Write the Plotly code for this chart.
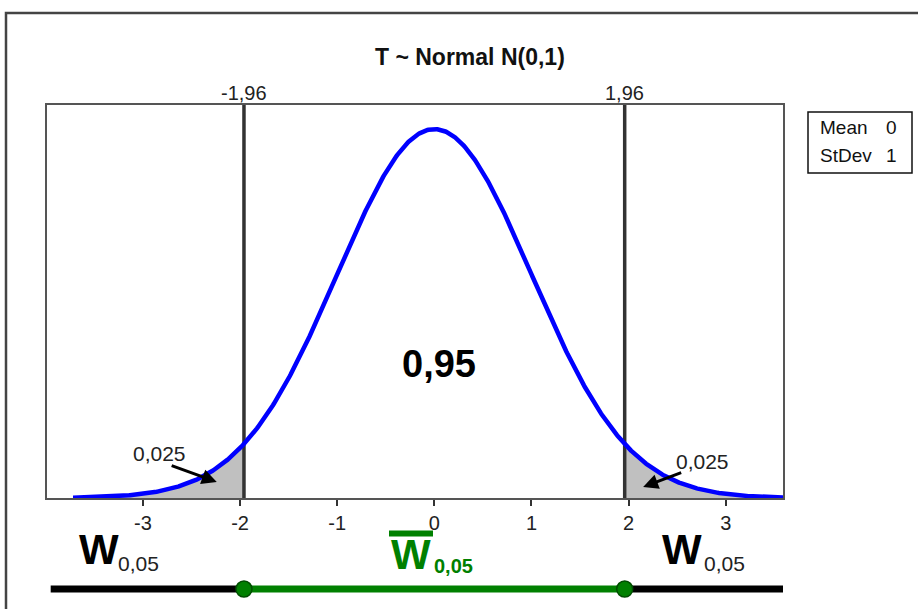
import numpy as np
import plotly.graph_objects as go

# Distribution parameters and critical values
MEAN = 0.0
STDEV = 1.0
CRIT = 1.96
TAIL_LABEL = "0,025"
CENTER_LABEL = "0,95"
CRIT_LABELS = ["-1,96", "1,96"]
TICK_VALUES = [-3, -2, -1, 0, 1, 2, 3]
TICK_LABELS = ["-3", "-2", "-1", "0", "1", "2", "3"]
CURVE_START, CURVE_END = -3.72, 3.59
BAR_START, BAR_END = -3.95, 3.61

W, H = 918, 609
FONT = "Liberation Sans, Arial, sans-serif"


def px(xp):
    return xp / W


def py(yp):
    return (H - yp) / H


def density(v):
    return np.exp(-0.5 * ((v - MEAN) / STDEV) ** 2) / (STDEV * np.sqrt(2 * np.pi))


x = np.linspace(CURVE_START, CURVE_END, 800)
pdf = density(x)

left_x = np.append(x[x < -CRIT], -CRIT)
right_x = np.insert(x[x > CRIT], 0, CRIT)

YMAX = 0.425

fig = go.Figure()

# shaded rejection tails
for tx in (left_x, right_x):
    fig.add_trace(go.Scatter(x=tx, y=density(tx), mode="lines", line=dict(width=0, color="#c0c0c0"),
                             fill="tozeroy", fillcolor="#c0c0c0", hoverinfo="skip", showlegend=False))

# critical value lines
for c in (-CRIT, CRIT):
    fig.add_trace(go.Scatter(x=[c, c], y=[0, YMAX], mode="lines",
                             line=dict(color="#333333", width=3.5), hoverinfo="skip", showlegend=False))

# density curve
fig.add_trace(go.Scatter(x=x, y=pdf, mode="lines", line=dict(color="#0000ff", width=4.5),
                         showlegend=False))

# acceptance / rejection bar below the axis
fig.add_trace(go.Scatter(x=[BAR_START, -CRIT], y=[0, 0], mode="lines", yaxis="y2",
                         line=dict(color="#000000", width=7), showlegend=False, cliponaxis=False))
fig.add_trace(go.Scatter(x=[CRIT, BAR_END], y=[0, 0], mode="lines", yaxis="y2",
                         line=dict(color="#000000", width=7), showlegend=False, cliponaxis=False))
fig.add_trace(go.Scatter(x=[-CRIT, CRIT], y=[0, 0], mode="lines+markers", yaxis="y2",
                         line=dict(color="#008000", width=7),
                         marker=dict(size=16, color="#008000", line=dict(color="#004d00", width=1.5)),
                         showlegend=False, cliponaxis=False))

annotations = []

# title
annotations.append(dict(x=px(470), y=py(57), xref="paper", yref="paper", text="<b>T ~ Normal N(0,1)</b>",
                        showarrow=False, font=dict(family=FONT, size=23, color="#111111"),
                        xanchor="center", yanchor="middle"))

# critical value labels above the plot
for c, lab in zip((-CRIT, CRIT), CRIT_LABELS):
    annotations.append(dict(x=c, y=py(93), xref="x", yref="paper", text=lab, showarrow=False,
                            font=dict(family=FONT, size=20, color="#222222"),
                            xanchor="center", yanchor="middle"))

# central probability
annotations.append(dict(x=0.05, y=0.145, xref="x", yref="y", text="<b>" + CENTER_LABEL + "</b>",
                        showarrow=False, font=dict(family=FONT, size=38, color="#000000"),
                        xanchor="center", yanchor="middle"))

# tail probability labels and arrows
annotations.append(dict(x=-2.825, y=0.0476, xref="x", yref="y", text=TAIL_LABEL, showarrow=False,
                        font=dict(family=FONT, size=21, color="#222222"), xanchor="center", yanchor="middle"))
annotations.append(dict(x=2.763, y=0.040, xref="x", yref="y", text=TAIL_LABEL, showarrow=False,
                        font=dict(family=FONT, size=21, color="#222222"), xanchor="center", yanchor="middle"))
annotations.append(dict(x=-2.24, y=0.0173, ax=-2.72, ay=0.0357, xref="x", yref="y", axref="x", ayref="y",
                        text="", showarrow=True, arrowhead=2, arrowsize=1, arrowwidth=3, arrowcolor="#000000"))
annotations.append(dict(x=2.15, y=0.0119, ax=2.557, ay=0.0281, xref="x", yref="y", axref="x", ayref="y",
                        text="", showarrow=True, arrowhead=2, arrowsize=1, arrowwidth=3, arrowcolor="#000000"))

# region labels below the axis
for wx, sx in ((99, 138), (682, 724)):
    annotations.append(dict(x=px(wx), y=py(549), xref="paper", yref="paper", text="<b>W</b>", showarrow=False,
                            font=dict(family=FONT, size=42, color="#000000"), xanchor="center", yanchor="middle"))
    annotations.append(dict(x=px(sx), y=py(563), xref="paper", yref="paper", text="0,05", showarrow=False,
                            font=dict(family=FONT, size=21, color="#222222"), xanchor="center", yanchor="middle"))

annotations.append(dict(x=px(411), y=py(554), xref="paper", yref="paper", text="<b>W</b>", showarrow=False,
                        font=dict(family=FONT, size=42, color="#008000"), xanchor="center", yanchor="middle"))
annotations.append(dict(x=px(453), y=py(566), xref="paper", yref="paper", text="<b>0,05</b>", showarrow=False,
                        font=dict(family=FONT, size=20, color="#008000"), xanchor="center", yanchor="middle"))

# parameter box text
for label, val, yy in (("Mean", "0", 128), ("StDev", "1", 155)):
    annotations.append(dict(x=px(818), y=py(yy), xref="paper", yref="paper", text=label, showarrow=False,
                            font=dict(family=FONT, size=19, color="#111111"), xanchor="left", yanchor="middle"))
    annotations.append(dict(x=px(899), y=py(yy), xref="paper", yref="paper", text=val, showarrow=False,
                            font=dict(family=FONT, size=19, color="#111111"), xanchor="right", yanchor="middle"))

shapes = [
    # outer frame
    dict(type="rect", xref="paper", yref="paper", x0=px(6), x1=1.05, y0=-0.05, y1=py(13),
         line=dict(color="#444444", width=2.5), fillcolor="rgba(0,0,0,0)"),
    # parameter box
    dict(type="rect", xref="paper", yref="paper", x0=px(808), x1=px(912), y0=py(173), y1=py(112),
         line=dict(color="#111111", width=1.5), fillcolor="rgba(0,0,0,0)"),
    # bar over the acceptance region symbol
    dict(type="line", xref="paper", yref="paper", x0=px(389), x1=px(433), y0=py(533.5), y1=py(533.5),
         line=dict(color="#008000", width=6)),
]

fig.update_layout(
    width=W, height=H,
    margin=dict(l=0, r=0, t=0, b=0),
    paper_bgcolor="white", plot_bgcolor="white",
    showlegend=False,
    xaxis=dict(domain=[px(47), px(783)], range=[-3.988, 3.590], tickvals=TICK_VALUES, ticktext=TICK_LABELS,
               ticks="outside", ticklen=6, tickwidth=1.5, tickcolor="#333333",
               showline=True, linecolor="#555555", linewidth=2, mirror=True,
               showgrid=False, zeroline=False, anchor="y",
               tickfont=dict(family=FONT, size=20, color="#222222")),
    yaxis=dict(domain=[py(498), py(105)], range=[0, YMAX], showticklabels=False, ticks="",
               showline=True, linecolor="#555555", linewidth=2, mirror=True,
               showgrid=False, zeroline=False, anchor="x"),
    yaxis2=dict(domain=[0, 0.1], range=[-1, 2.05], visible=False, anchor="x", fixedrange=True),
    annotations=annotations,
    shapes=shapes,
)

fig.write_html("out.html")
